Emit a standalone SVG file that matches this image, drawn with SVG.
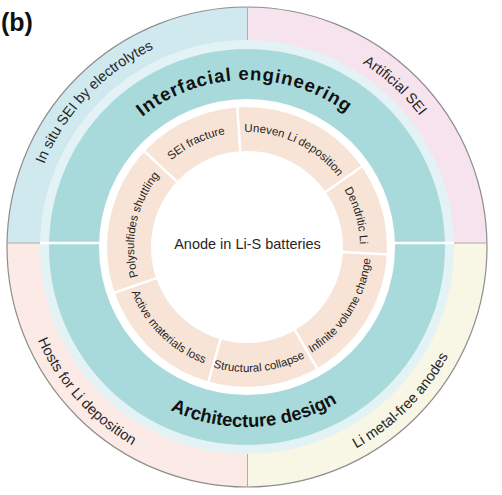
<svg xmlns="http://www.w3.org/2000/svg" width="502" height="495" viewBox="0 0 502 495">
<style>
.t{font-family:"Liberation Sans",Arial,sans-serif;fill:#262626}
.o{font-size:14.5px}
.r{font-size:11.5px}
.b{font-size:18.5px;font-weight:bold;fill:#111}
.div{stroke:#ffffff;stroke-width:2.5}
.qd{stroke:#b5a9ae;stroke-width:1}
</style>
<defs>
<clipPath id="cc"><circle cx="247" cy="247" r="240"/></clipPath>
<path id="p1" d="M80.41,235.35 A167,167 0 0 1 413.09,229.54"/>
<path id="p2" d="M68.54,270.50 A180,180 0 0 0 426.83,254.85"/>
<path id="p3" d="M82.98,392.11 A219,219 0 0 1 383.33,75.61"/>
<path id="p4" d="M100.40,87.01 A217,217 0 0 1 419.16,379.10"/>
<path id="p5" d="M79.52,90.82 A229,229 0 0 0 384.82,429.89"/>
<path id="p6" d="M99.80,422.42 A229,229 0 0 0 422.42,99.80"/>
<path id="p7" d="M139.64,288.21 A115,115 0 0 1 345.57,187.77"/>
<path id="p8" d="M147.91,188.63 A115,115 0 0 1 354.72,287.27"/>
<path id="p9" d="M225.44,136.08 A113,113 0 0 1 287.50,352.49"/>
<path id="p10" d="M213.96,355.06 A113,113 0 0 1 260.77,134.84"/>
<path id="p11" d="M190.71,357.49 A124,124 0 0 0 321.63,147.97"/>
<path id="p12" d="M124.30,270.85 A125,125 0 0 0 371.98,244.82"/>
<path id="p13" d="M151.32,168.13 A124,124 0 0 0 327.53,341.29"/>
</defs>
<rect width="502" height="495" fill="#ffffff"/>
<text class="t" x="1" y="31" style="font-size:25px;font-weight:bold;fill:#111">(b)</text>
<g id="outer-ring" clip-path="url(#cc)">
<rect id="q-tl" x="0" y="0" width="247.5" height="243" fill="#d0e9ef"/>
<rect id="q-tr" x="247.5" y="0" width="254.5" height="243" fill="#f7e3ed"/>
<rect id="q-bl" x="0" y="243" width="247.5" height="252" fill="#fbeae6"/>
<rect id="q-br" x="247.5" y="243" width="254.5" height="252" fill="#f8f6e4"/>
</g>
<circle cx="247" cy="247" r="240" fill="none" stroke="#8e8e8e" stroke-width="1.2"/>
<g id="quadrant-lines">
<line class="qd" x1="247.5" y1="7" x2="247.5" y2="40"/>
<line class="qd" x1="247.5" y1="454" x2="247.5" y2="487"/>
<line class="qd" x1="7" y1="243" x2="40" y2="243"/>
<line class="qd" x1="454" y1="243" x2="487" y2="243"/>
</g>
<circle cx="247" cy="247" r="207" fill="#e3f3f5"/>
<g id="teal-ring">
<circle cx="247" cy="247" r="198" fill="#a8dadc"/>
<line class="div" x1="40" y1="243" x2="100" y2="243"/>
<line class="div" x1="394" y1="243" x2="454" y2="243"/>
</g>
<circle cx="247" cy="247" r="148" fill="#ffffff"/>
<g id="peach-ring">
<circle cx="247" cy="247" r="140" fill="#f8e4d7"/>
<circle cx="247" cy="247" r="96" fill="#ffffff"/>
<line class="div" x1="240.37" y1="152.23" x2="237.09" y2="105.35"/>
<line class="div" x1="324.82" y1="192.51" x2="363.32" y2="165.55"/>
<line class="div" x1="341.87" y1="251.97" x2="388.81" y2="254.43"/>
<line class="div" x1="294.5" y1="329.27" x2="318" y2="369.98"/>
<line class="div" x1="220.81" y1="338.32" x2="207.86" y2="383.50"/>
<line class="div" x1="157.18" y1="277.93" x2="112.74" y2="293.23"/>
<line class="div" x1="177.52" y1="182.21" x2="143.15" y2="150.16"/>
</g>
<g id="center">
<text class="t" x="247.5" y="249" text-anchor="middle" style="font-size:14.5px">Anode in Li-S batteries</text>
</g>
<g id="labels">
<text class="t b" style="letter-spacing:1px"><textPath href="#p1" startOffset="50%" text-anchor="middle">Interfacial engineering</textPath></text>
<text class="t b"><textPath href="#p2" startOffset="50%" text-anchor="middle">Architecture design</textPath></text>
<text class="t o"><textPath href="#p3" startOffset="50%" text-anchor="middle">In situ SEI by electrolytes</textPath></text>
<text class="t o"><textPath href="#p4" startOffset="50%" text-anchor="middle">Artificial SEI</textPath></text>
<text class="t o"><textPath href="#p5" startOffset="50%" text-anchor="middle">Hosts for Li deposition</textPath></text>
<text class="t o"><textPath href="#p6" startOffset="50%" text-anchor="middle">Li metal-free anodes</textPath></text>
<text class="t r"><textPath href="#p7" startOffset="50%" text-anchor="middle">SEI fracture</textPath></text>
<text class="t r"><textPath href="#p8" startOffset="50%" text-anchor="middle">Uneven Li deposition</textPath></text>
<text class="t r"><textPath href="#p9" startOffset="50%" text-anchor="middle">Dendritic Li</textPath></text>
<text class="t r"><textPath href="#p10" startOffset="50%" text-anchor="middle">Polysulfides shuttling</textPath></text>
<text class="t r"><textPath href="#p11" startOffset="50%" text-anchor="middle">Infinite volume change</textPath></text>
<text class="t r"><textPath href="#p12" startOffset="50%" text-anchor="middle">Structural collapse</textPath></text>
<text class="t r"><textPath href="#p13" startOffset="50%" text-anchor="middle">Active materials loss</textPath></text>
</g>
</svg>
